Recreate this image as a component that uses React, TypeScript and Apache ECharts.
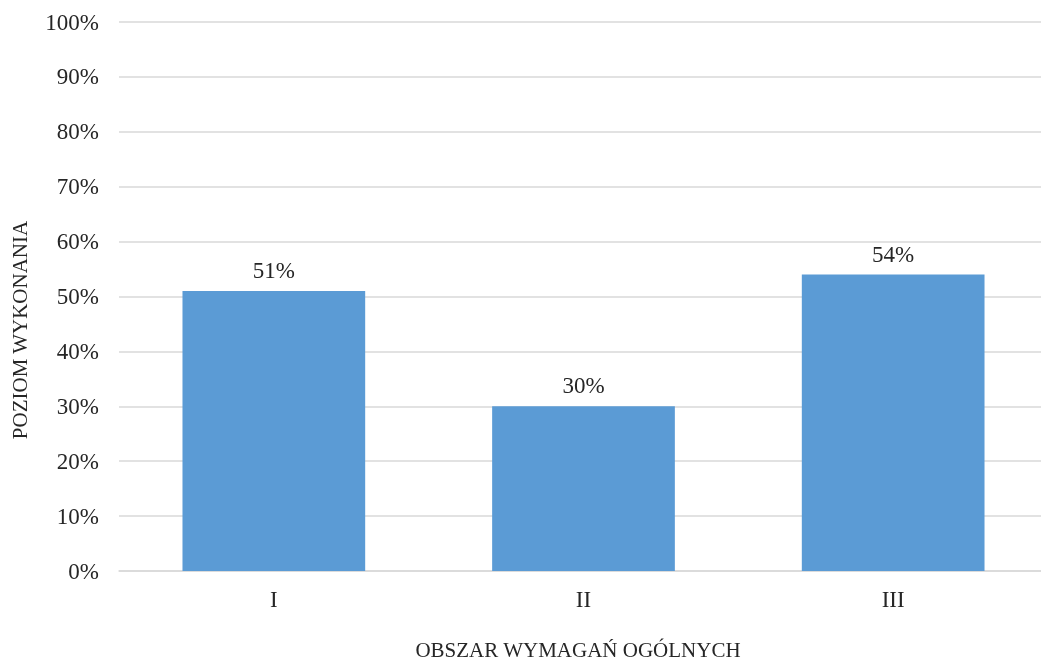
import React, { useEffect, useRef } from "react";
import * as echarts from "echarts";

const categories = ["I", "II", "III"];
const values = [51, 30, 54];
const yTicks = [0, 10, 20, 30, 40, 50, 60, 70, 80, 90, 100];
const yTitle = "POZIOM WYKONANIA";
const xTitle = "OBSZAR WYMAGAŃ OGÓLNYCH";

export default function App() {
  const ref = useRef<HTMLDivElement>(null);
  useEffect(() => {
    const chart = echarts.init(ref.current!, null, { renderer: "svg" });
    const font = "'Liberation Serif', 'Times New Roman', serif";
    chart.setOption({
      animation: false,
      textStyle: { fontFamily: font },
      grid: { left: 119, right: 0, top: 22, bottom: 91, containLabel: false },
      xAxis: {
        type: "category",
        data: categories,
        axisTick: { show: false },
        axisLine: { lineStyle: { color: "#d9d9d9", width: 1.5 } },
        axisLabel: { fontFamily: font, fontSize: 23, color: "#262626", margin: 17 },
      },
      yAxis: {
        type: "value",
        min: yTicks[0],
        max: yTicks[yTicks.length - 1],
        interval: 10,
        axisLine: { show: false },
        axisTick: { show: false },
        splitLine: { lineStyle: { color: "#d9d9d9", width: 1.5 } },
        axisLabel: {
          fontFamily: font,
          fontSize: 23,
          color: "#262626",
          margin: 20,
          formatter: (v: number) => v + "%",
        },
      },
      series: [
        {
          type: "bar",
          data: values,
          barCategoryGap: "41%",
          itemStyle: { color: "#5b9bd5" },
          label: {
            show: true,
            position: "top",
            distance: 9,
            fontFamily: font,
            fontSize: 23,
            color: "#262626",
            formatter: (p: any) => p.value + "%",
          },
        },
      ],
      graphic: [
        {
          type: "text",
          x: 20,
          y: 330,
          rotation: Math.PI / 2,
          style: {
            text: yTitle,
            fontFamily: font,
            fontSize: 21,
            fill: "#262626",
            align: "center",
            verticalAlign: "middle",
          },
        },
        {
          type: "text",
          x: 578,
          y: 650,
          style: {
            text: xTitle,
            fontFamily: font,
            fontSize: 21,
            fill: "#262626",
            align: "center",
            verticalAlign: "middle",
          },
        },
      ],
    });
    return () => chart.dispose();
  }, []);
  return (
    <div
      ref={ref}
      style={{ position: "fixed", left: 0, top: 0, width: 1048, height: 662 }}
    />
  );
}
